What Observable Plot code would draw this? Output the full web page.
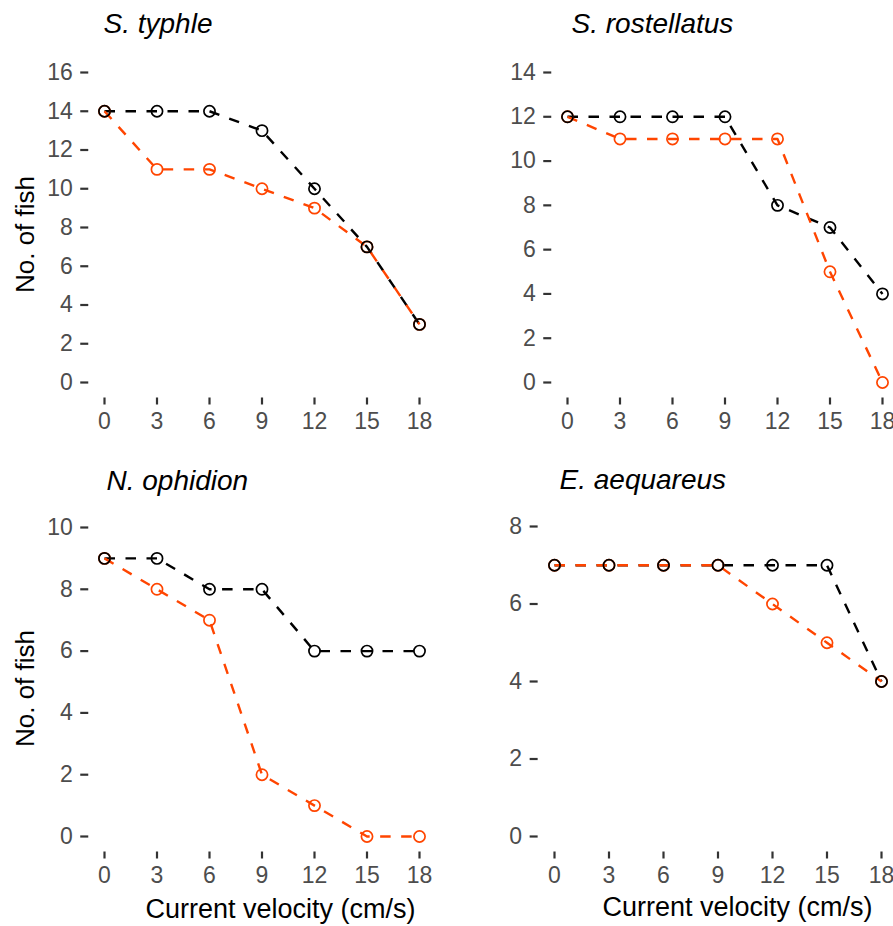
<!DOCTYPE html>
<html>
<head>
<meta charset="utf-8">
<script src="https://cdn.jsdelivr.net/npm/d3@7"></script>
<script src="https://cdn.jsdelivr.net/npm/@observablehq/plot@0.6"></script>
<style>
  body { margin: 0; background: #fff; }
  #fig { position: relative; width: 893px; height: 926px; overflow: hidden; background: #fff; }
  #fig svg { position: absolute; }
</style>
</head>
<body>
<div id="fig"></div>
<script>
// ---- data ----
const velocity = [0, 3, 6, 9, 12, 15, 18];
const xTicks = [0, 3, 6, 9, 12, 15, 18];
const groups = ["Group A", "Group B"];
const groupColors = ["#000000", "#FF4500"];

const speciesNames = ["S. typhle", "S. rostellatus", "N. ophidion", "E. aequareus"];

const typhleA = [14, 14, 14, 13, 10, 7, 3];
const typhleB = [14, 11, 11, 10, 9, 7, 3];
const rostellatusA = [12, 12, 12, 12, 8, 7, 4];
const rostellatusB = [12, 11, 11, 11, 11, 5, 0];
const ophidionA = [9, 9, 8, 8, 6, 6, 6];
const ophidionB = [9, 8, 7, 2, 1, 0, 0];
const aequareusA = [7, 7, 7, 7, 7, 7, 4];
const aequareusB = [7, 7, 7, 7, 6, 5, 4];

const yTicksTyphle = [0, 2, 4, 6, 8, 10, 12, 14, 16];
const yTicksRostellatus = [0, 2, 4, 6, 8, 10, 12, 14];
const yTicksOphidion = [0, 2, 4, 6, 8, 10];
const yTicksAequareus = [0, 2, 4, 6, 8];

const yLabel = "No. of fish";
const xLabel = "Current velocity (cm/s)";

// ---- table builder ----
function table(a, b) {
  const rows = [];
  velocity.forEach((v, i) => rows.push({velocity: v, fish: a[i], group: groups[0]}));
  velocity.forEach((v, i) => rows.push({velocity: v, fish: b[i], group: groups[1]}));
  return rows;
}

// ---- layout (positions / sizes only) ----
const panels = [
  {name: speciesNames[0], rows: table(typhleA, typhleB), yDomain: [0, 16], yTicks: yTicksTyphle,
   left: 0, top: 0, width: 450, height: 460,
   xRange: [104, 419], yRange: [382, 72], mL: 88.25, mT: 56.5, mB: 62.5, mR: 15,
   titleX: 103, titleB: 32, yLab: {x: 33, y: 234}, xLab: null},
  {name: speciesNames[1], rows: table(rostellatusA, rostellatusB), yDomain: [0, 14], yTicks: yTicksRostellatus,
   left: 450, top: 0, width: 460, height: 460,
   xRange: [117, 432], yRange: [382, 72], mL: 101.25, mT: 56.5, mB: 62.5, mR: 12,
   titleX: 121, titleB: 32, yLab: null, xLab: null},
  {name: speciesNames[2], rows: table(ophidionA, ophidionB), yDomain: [0, 10], yTicks: yTicksOphidion,
   left: 0, top: 460, width: 450, height: 466,
   xRange: [104, 419], yRange: [376, 67], mL: 88.25, mT: 51.5, mB: 74.5, mR: 15,
   titleX: 106, titleB: 29.5, yLab: {x: 33, y: 228}, xLab: {x: 280, b: 457}},
  {name: speciesNames[3], rows: table(aequareusA, aequareusB), yDomain: [0, 8], yTicks: yTicksAequareus,
   left: 450, top: 460, width: 460, height: 466,
   xRange: [104, 431], yRange: [376, 66], mL: 87.65, mT: 50.5, mB: 74.5, mR: 12,
   titleX: 109, titleB: 28.5, yLab: null, xLab: {x: 287, b: 455}}
];

const fig = document.getElementById("fig");
const FONT = "'Liberation Sans', Arial, Helvetica, sans-serif";

for (const p of panels) {
  const marks = [
    Plot.axisX({ticks: xTicks, tickSize: 7, tickPadding: 8, fontSize: 23, fill: "#4D4D4D",
                stroke: "#333333", strokeWidth: 2.2, label: null}),
    Plot.axisY({ticks: p.yTicks, tickSize: 8, tickPadding: 8, fontSize: 23, fill: "#4D4D4D",
                stroke: "#333333", strokeWidth: 2.2, label: null}),
    Plot.line(p.rows, {x: "velocity", y: "fish", z: "group", stroke: "group",
                       strokeWidth: 2.4, strokeDasharray: "10.5,10.5", strokeLinecap: "butt"}),
    Plot.dot(p.rows.slice().reverse(), {x: "velocity", y: "fish", stroke: "group", fill: "none",
                       r: 5.6, strokeWidth: 1.7}),
    Plot.text([p.name], {frameAnchor: "top-left", text: d => d, textAnchor: "start", lineAnchor: "bottom",
                       dx: p.titleX - p.mL, dy: p.titleB - p.mT, fontSize: 28, fontStyle: "italic", fill: "#000"})
  ];
  if (p.yLab) {
    marks.push(Plot.text([yLabel], {frameAnchor: "top-left", text: d => d, textAnchor: "middle", lineAnchor: "bottom",
                       rotate: -90, dx: p.yLab.x - p.mL, dy: p.yLab.y - p.mT, fontSize: 26, fill: "#000"}));
  }
  if (p.xLab) {
    marks.push(Plot.text([xLabel], {frameAnchor: "top-left", text: d => d, textAnchor: "middle", lineAnchor: "bottom",
                       dx: p.xLab.x - p.mL, dy: p.xLab.b - p.mT, fontSize: 27, fill: "#000"}));
  }
  const svg = Plot.plot({
    width: p.width,
    height: p.height,
    marginLeft: p.mL,
    marginTop: p.mT,
    marginBottom: p.mB,
    marginRight: p.mR,
    x: {domain: [0, 18], range: p.xRange},
    y: {domain: p.yDomain, range: p.yRange},
    color: {domain: groups, range: groupColors},
    style: {fontFamily: FONT, background: "transparent", overflow: "visible"},
    marks
  });
  svg.style.left = p.left + "px";
  svg.style.top = p.top + "px";
  fig.appendChild(svg);
}
</script>
</body>
</html>
